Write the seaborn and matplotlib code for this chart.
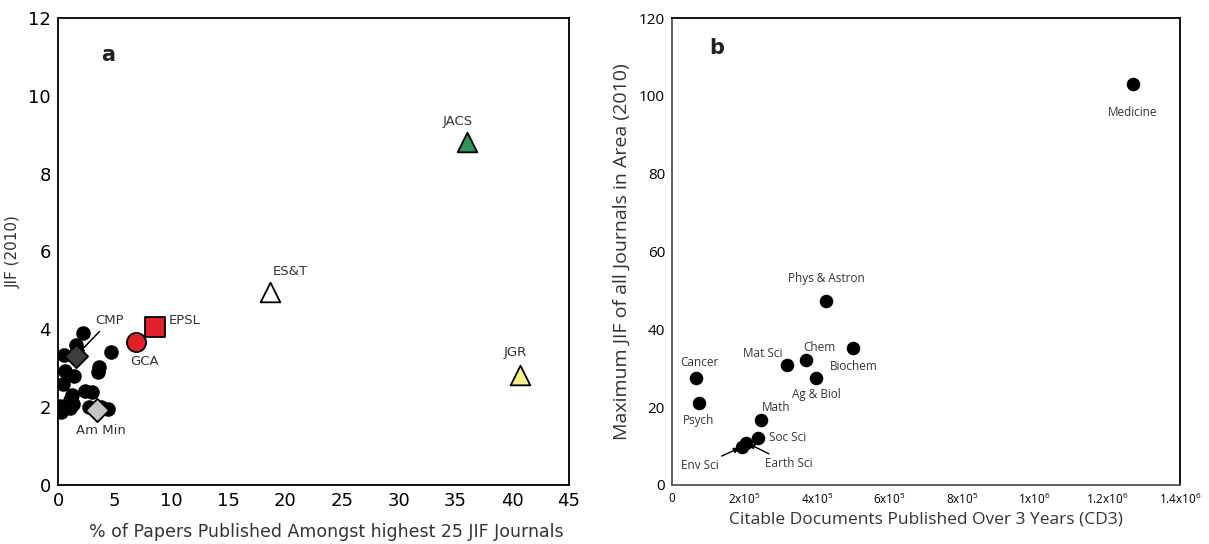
import matplotlib
matplotlib.use("Agg")
import matplotlib.pyplot as plt
import seaborn as sns
import pandas as pd

# ---------------- Data: panel a ----------------
other_x = [2.2, 1.6, 0.5, 4.65, 3.6, 3.55, 0.65, 1.45, 0.45, 1.2, 1.1, 2.4, 3.0,
           0.2, 0.3, 1.1, 2.7, 4.4, 3.8, 0.6, 1.3]
other_y = [3.9, 3.6, 3.33, 3.42, 3.02, 2.9, 2.92, 2.8, 2.6, 2.3, 2.18, 2.42, 2.38,
           2.02, 1.88, 1.97, 2.0, 1.95, 2.0, 1.98, 2.08]

journals = ["GCA", "EPSL", "ES&T", "JACS", "JGR", "CMP", "Am Min"]
journal_pct = [6.87, 8.54, 18.66, 36.0, 40.67, 1.58, 3.46]
journal_jif = [3.67, 4.06, 4.97, 8.81, 2.83, 3.32, 1.94]

# ---------------- Data: panel b ----------------
areas = ["Medicine", "Phys & Astron", "Biochem", "Chem", "Mat Sci", "Ag & Biol",
         "Cancer", "Psych", "Math", "Soc Sci", "Earth Sci", "Env Sci"]
cd3 = [1.27e6, 4.25e5, 5.0e5, 3.68e5, 3.18e5, 3.97e5,
       0.66e5, 0.74e5, 2.45e5, 2.37e5, 2.05e5, 1.93e5]
max_jif = [103, 47.4, 35.2, 32.2, 30.9, 27.5, 27.5, 21.0, 16.7, 12.2, 10.9, 9.8]

xticks_b = [0, 2e5, 4e5, 6e5, 8e5, 1e6, 1.2e6, 1.4e6]
xtick_labels_b = ["0", r"2x10$^5$", r"4x10$^5$", r"6x10$^5$", r"8x10$^5$",
                  r"1x10$^6$", r"1.2x10$^6$", r"1.4x10$^6$"]

# ---------------- Style ----------------
sns.set_theme(style="white")
plt.rcParams["font.family"] = ["DejaVu Sans"]
plt.rcParams["mathtext.default"] = "regular"

fig = plt.figure(figsize=(12.09, 5.44), dpi=100)
W, H = 1209, 544
axa = fig.add_axes([58 / W, (H - 485) / H, 511 / W, 467 / H])
axb = fig.add_axes([672 / W, (H - 485) / H, 508 / W, 467 / H])

PX = 0.72  # px -> points at 100 dpi

# ---------------- Panel a ----------------
df_other = pd.DataFrame({"pct": other_x, "jif": other_y})
sns.scatterplot(data=df_other, x="pct", y="jif", ax=axa, color="black",
                s=110, edgecolor="black", linewidth=0, zorder=3)

styles = {
    "GCA":    dict(marker="o", color="#e2202a", s=190),
    "EPSL":   dict(marker="s", color="#e2202a", s=220),
    "ES&T":   dict(marker="^", color="white", s=200),
    "JACS":   dict(marker="^", color="#33935a", s=200),
    "JGR":    dict(marker="^", color="#f6ee8e", s=200),
    "CMP":    dict(marker="D", color="#3d3d3d", s=140),
    "Am Min": dict(marker="D", color="#c4c4c4", s=140),
}
for name, xv, yv in zip(journals, journal_pct, journal_jif):
    st = styles[name]
    sns.scatterplot(x=[xv], y=[yv], ax=axa, marker=st["marker"], color=st["color"],
                    s=st["s"], edgecolor="black", linewidth=1.3, zorder=4)

label_off_a = {
    "GCA": (9, -19), "EPSL": (30, 6), "ES&T": (20, 20), "JACS": (-9, 21),
    "JGR": (-5, 22), "Am Min": (4, -21),
}
for name, xv, yv in zip(journals, journal_pct, journal_jif):
    if name == "CMP":
        axa.annotate(name, xy=(xv, yv), xytext=(34 * PX, 35 * PX),
                     textcoords="offset points", ha="center", va="center",
                     fontsize=9.5, color="#333333",
                     arrowprops=dict(arrowstyle="-|>", color="black", lw=1.1,
                                     shrinkA=1, shrinkB=2, mutation_scale=9))
        continue
    dx, dy = label_off_a[name]
    axa.annotate(name, xy=(xv, yv), xytext=(dx * PX, dy * PX),
                 textcoords="offset points", ha="center", va="center",
                 fontsize=9.5, color="#333333")

axa.set_xlim(0, 45)
axa.set_ylim(0, 12)
axa.set_xticks(range(0, 46, 5))
axa.set_yticks(range(0, 13, 2))
axa.tick_params(axis="both", direction="in", length=4, width=1, labelsize=13,
                colors="black", pad=5)
axa.set_xlabel("% of Papers Published Amongst highest 25 JIF Journals",
               fontsize=12.5, color="#333333")
axa.xaxis.set_label_coords(0.525, -0.082)
axa.set_ylabel("JIF (2010)", fontsize=11, color="#333333")
axa.yaxis.set_label_coords(-0.072, 0.5)
for sp in axa.spines.values():
    sp.set_color("black")
    sp.set_linewidth(1.3)
axa.text(0.098, 0.92, "a", transform=axa.transAxes, fontsize=15,
         fontweight="bold", color="#222222", ha="center", va="center")

# ---------------- Panel b ----------------
df_b = pd.DataFrame({"area": areas, "cd3": cd3, "jif": max_jif})
sns.scatterplot(data=df_b, x="cd3", y="jif", ax=axb, color="black", s=95,
                edgecolor="black", linewidth=0, zorder=3)

label_off_b = {
    "Medicine": (0, -28), "Phys & Astron": (0, 22), "Biochem": (0, -18),
    "Chem": (14, 12), "Mat Sci": (-25, 11), "Ag & Biol": (0, -17),
    "Cancer": (3, 15), "Psych": (0, -17), "Math": (15, 13), "Soc Sci": (30, 0),
}
for name, xv, yv in zip(areas, cd3, max_jif):
    if name in label_off_b:
        dx, dy = label_off_b[name]
        axb.annotate(name, xy=(xv, yv), xytext=(dx * PX, dy * PX),
                     textcoords="offset points", ha="center", va="center",
                     fontsize=8.5, color="#333333", family="Open Sans")
    elif name == "Env Sci":
        axb.annotate(name, xy=(xv, yv), xytext=(-42 * PX, -19 * PX),
                     textcoords="offset points", ha="center", va="center",
                     fontsize=8.5, color="#333333", family="Open Sans",
                     arrowprops=dict(arrowstyle="-|>", color="black", lw=1.0,
                                     shrinkA=0, shrinkB=2, mutation_scale=8))
    elif name == "Earth Sci":
        axb.annotate(name, xy=(xv, yv), xytext=(42 * PX, -21 * PX),
                     textcoords="offset points", ha="center", va="center",
                     fontsize=8.5, color="#333333", family="Open Sans",
                     arrowprops=dict(arrowstyle="-|>", color="black", lw=1.0,
                                     shrinkA=0, shrinkB=2, mutation_scale=8))

axb.set_xlim(0, 1.4e6)
axb.set_ylim(0, 120)
axb.set_xticks(xticks_b)
axb.set_xticklabels(xtick_labels_b, fontsize=8.5, family="Open Sans")
axb.set_yticks(range(0, 121, 20))
axb.tick_params(axis="both", direction="in", length=4, width=1, colors="#555555",
                labelcolor="black", pad=5)
axb.tick_params(axis="y", labelsize=11)
for lab in axb.get_yticklabels():
    lab.set_family("Open Sans")
axb.set_xlabel("Citable Documents Published Over 3 Years (CD3)", fontsize=12.5,
               color="#333333", family="Open Sans", labelpad=3)
axb.set_ylabel("Maximum JIF of all Journals in Area (2010)", fontsize=14,
               color="#333333", family="Open Sans", labelpad=6)
for name, sp in axb.spines.items():
    sp.set_linewidth(1.3)
    sp.set_color("#555555" if name in ("left", "bottom") else "black")
axb.text(0.089, 0.936, "b", transform=axb.transAxes, fontsize=15,
         fontweight="bold", color="#222222", ha="center", va="center")

fig.savefig("out.png", dpi=100)
